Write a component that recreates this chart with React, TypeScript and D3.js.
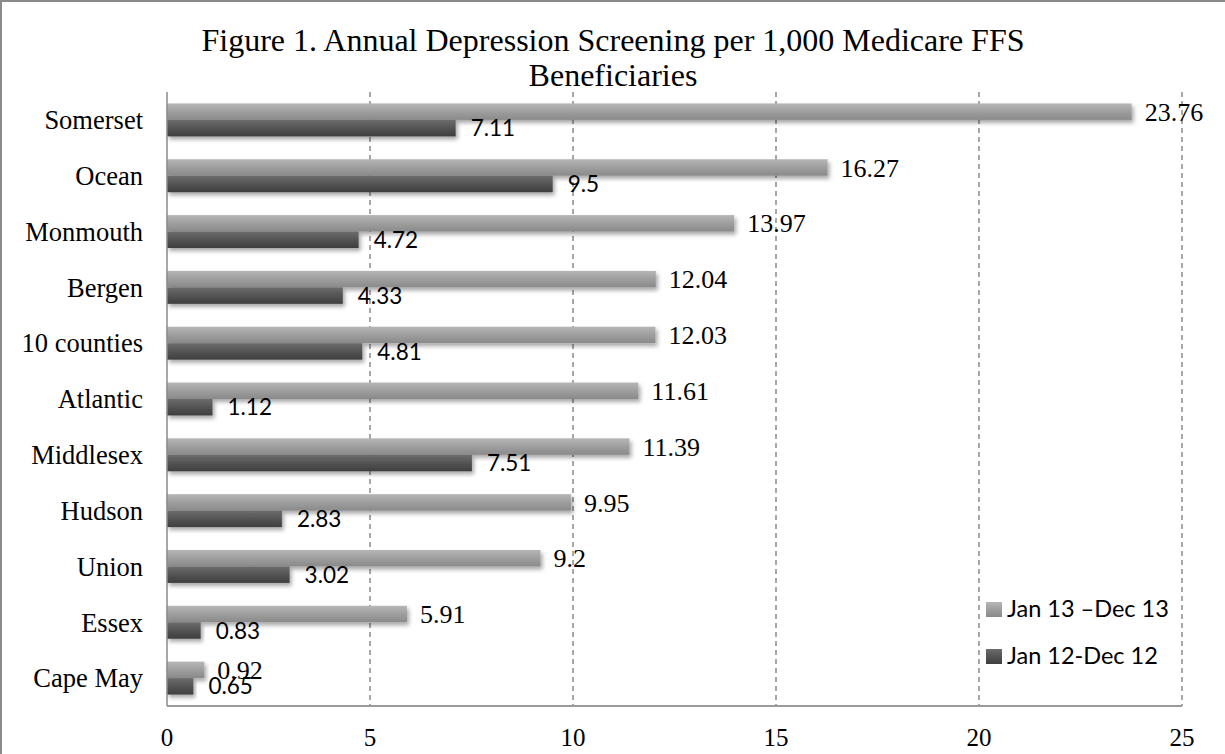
import React from "react";
import * as d3 from "d3";

const categories = ["Somerset", "Ocean", "Monmouth", "Bergen", "10 counties", "Atlantic", "Middlesex", "Hudson", "Union", "Essex", "Cape May"];
const values2013 = [23.76, 16.27, 13.97, 12.04, 12.03, 11.61, 11.39, 9.95, 9.2, 5.91, 0.92];
const values2012 = [7.11, 9.5, 4.72, 4.33, 4.81, 1.12, 7.51, 2.83, 3.02, 0.83, 0.65];
const labels2013 = ["23.76", "16.27", "13.97", "12.04", "12.03", "11.61", "11.39", "9.95", "9.2", "5.91", "0.92"];
const labels2012 = ["7.11", "9.5", "4.72", "4.33", "4.81", "1.12", "7.51", "2.83", "3.02", "0.83", "0.65"];
const xTicks = [0, 5, 10, 15, 20, 25];
const seriesNames = ["Jan 13 \u2013Dec 13", "Jan 12-Dec 12"];
const titleLines = ["Figure 1. Annual Depression Screening per 1,000 Medicare FFS", "Beneficiaries"];

const W = 1225;
const H = 754;
const left = 167;
const right = 1182;
const top = 92;
const bottom = 706;
const serif = "'Liberation Serif', 'Times New Roman', serif";
const sans = "Lato, 'Open Sans', sans-serif";

export default function App() {
  const x = d3.scaleLinear().domain([0, 25]).range([left, right]);
  const y = d3.scaleBand<string>().domain(categories).range([top, bottom]).paddingInner(0.41).paddingOuter(0.205);
  const bh = y.bandwidth() / 2;

  return (
    <svg width={W} height={H} style={{ position: "absolute", left: 0, top: 0, background: "#fff" }}>
      <defs>
        <linearGradient id="gLight" x1="0" y1="0" x2="0" y2="1">
          <stop offset="0" stopColor="#b6b6b6" />
          <stop offset="0.5" stopColor="#9e9e9e" />
          <stop offset="1" stopColor="#8a8a8a" />
        </linearGradient>
        <linearGradient id="gDark" x1="0" y1="0" x2="0" y2="1">
          <stop offset="0" stopColor="#6c6c6c" />
          <stop offset="0.5" stopColor="#545454" />
          <stop offset="1" stopColor="#3e3e3e" />
        </linearGradient>
        <filter id="shadow" x="-5%" y="-30%" width="115%" height="190%">
          <feDropShadow dx="2" dy="3" stdDeviation="2.2" floodColor="#000" floodOpacity="0.35" />
        </filter>
      </defs>
      <rect x={1} y={1} width={1400} height={1000} fill="#fff" stroke="#8a8a8a" strokeWidth={2} />

      {titleLines.map((t, i) => (
        <text key={t} x={613} y={51 + i * 35} textAnchor="middle" fontFamily={serif} fontSize={32} fill="#000">
          {t}
        </text>
      ))}

      {xTicks.filter((t) => t > 0).map((t) => (
        <line key={t} x1={x(t)} x2={x(t)} y1={top} y2={bottom} stroke="#8a8a8a" strokeWidth={1.5} strokeDasharray="5,4" />
      ))}

      {categories.map((c, i) => (
        <g key={c}>
          <rect x={x(0)} y={y(c)!} width={x(values2013[i]) - x(0)} height={bh} fill="url(#gLight)" filter="url(#shadow)" />
          <rect x={x(0)} y={y(c)! + bh} width={x(values2012[i]) - x(0)} height={bh} fill="url(#gDark)" filter="url(#shadow)" />
        </g>
      ))}

      <line x1={left} x2={left} y1={top} y2={bottom} stroke="#8a8a8a" strokeWidth={1.5} />
      <line x1={left} x2={right} y1={bottom} y2={bottom} stroke="#9a9a9a" strokeWidth={2} />

      {categories.map((c, i) => (
        <g key={c + "l"}>
          <text x={143} y={y(c)! + bh} dy="0.35em" textAnchor="end" fontFamily={serif} fontSize={26.5} fill="#000">
            {c}
          </text>
          <text x={x(values2013[i]) + 13} y={y(c)! + bh / 2} dy="0.35em" fontFamily={serif} fontSize={26} fill="#000">
            {labels2013[i]}
          </text>
          <text x={x(values2012[i]) + 15} y={y(c)! + bh * 1.5} dy="0.36em" fontFamily={sans} fontSize={22.5} fill="#000">
            {labels2012[i]}
          </text>
        </g>
      ))}

      {xTicks.map((t) => (
        <text key={"t" + t} x={x(t)} y={746} textAnchor="middle" fontFamily={serif} fontSize={25} fill="#000">
          {t}
        </text>
      ))}

      {seriesNames.map((s, i) => (
        <g key={s}>
          <rect x={986} y={602 + i * 47} width={16} height={15} fill={i === 0 ? "url(#gLight)" : "url(#gDark)"} />
          <text x={1007} y={617 + i * 47} fontFamily={sans} fontSize={23.5} fill="#000">
            {s}
          </text>
        </g>
      ))}
    </svg>
  );
}
